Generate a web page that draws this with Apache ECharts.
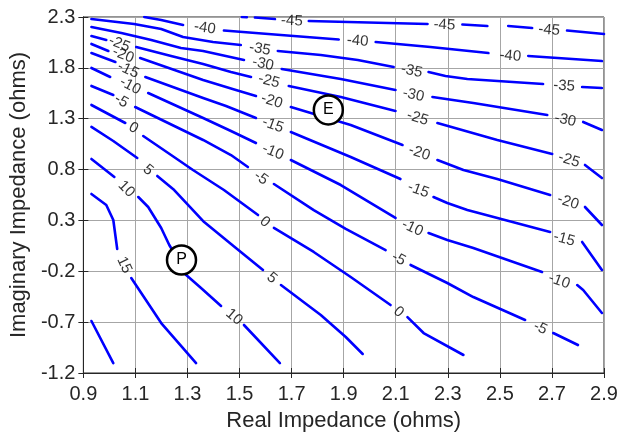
<!DOCTYPE html>
<html><head><meta charset="utf-8">
<script src="https://cdn.jsdelivr.net/npm/echarts@6/dist/echarts.min.js"></script>
<style>html,body{margin:0;padding:0;background:#fff}#c{width:632px;height:438px}</style>
</head><body><div id="c"></div>
<script>
// Tick labels
const xTickLabels = ['0.9','1.1','1.3','1.5','1.7','1.9','2.1','2.3','2.5','2.7','2.9'];
const yTickLabels = ['-1.2','-0.7','-0.2','0.3','0.8','1.3','1.8','2.3'];
const X0 = 0.9, Y0 = -1.2;   // axis origin (real, imaginary)

// Contour lines: each level = list of segments of [real, imag] points (gaps where labels sit)
const c_m45 = [
 [[1.509,2.300],[1.528,2.298]],
 [[1.559,2.295],[1.636,2.280]],
 [[1.766,2.261],[2.222,2.231]],
 [[2.356,2.226],[2.452,2.212]],
 [[2.532,2.212],[2.624,2.192]],
 [[2.758,2.167],[2.900,2.133]]
];
const l_m45 = [[1.701,2.261,-3],[2.287,2.221,-3],[2.689,2.172,-5]];

const c_m40 = [
 [[1.134,2.300],[1.199,2.271],[1.283,2.221]],
 [[1.440,2.167],[1.659,2.123],[1.881,2.079]],
 [[2.023,2.054],[2.233,2.005],[2.456,1.946]],
 [[2.609,1.917],[2.892,1.867]]
];
const l_m40 = [[1.367,2.192,-8],[1.954,2.064,-5],[2.540,1.917,-5]];

const c_m35 = [
 [[0.931,2.280],[1.095,2.231],[1.199,2.182],[1.283,2.103],[1.398,2.054],[1.505,2.025]],
 [[1.647,1.966],[1.812,1.926],[1.954,1.877],[2.092,1.808]],
 [[2.226,1.759],[2.291,1.720],[2.375,1.690],[2.666,1.641]],
 [[2.816,1.612],[2.892,1.602]]
];
const l_m35 = [[1.578,1.985,-10],[2.161,1.769,-12],[2.747,1.622,-4]];

const c_m30 = [
 [[0.931,2.202],[1.046,2.143],[1.161,2.074],[1.275,1.995],[1.360,1.966],[1.517,1.877]],
 [[1.662,1.789],[1.889,1.690],[2.099,1.582]],
 [[2.241,1.513],[2.398,1.454],[2.682,1.336]],
 [[2.820,1.268],[2.892,1.189]]
];
const l_m30 = [[1.590,1.838,-12],[2.168,1.533,-12],[2.751,1.287,-12]];

const c_m25 = [
 [[0.931,2.113],[0.988,2.074]],
 [[1.103,2.005],[1.237,1.917],[1.360,1.838],[1.467,1.759],[1.544,1.710]],
 [[1.689,1.622],[1.889,1.513],[2.099,1.376]],
 [[2.260,1.258],[2.490,1.091],[2.701,0.953]],
 [[2.827,0.845],[2.892,0.717]]
];
const l_m25 = [[1.038,2.035,-22],[1.613,1.671,-15],[2.184,1.307,-17],[2.766,0.894,-17]];

const c_m20 = [
 [[0.931,2.035],[0.996,1.966]],
 [[1.118,1.897],[1.283,1.749],[1.360,1.681],[1.486,1.582],[1.563,1.523]],
 [[1.697,1.415],[1.927,1.238],[2.126,1.042]],
 [[2.260,0.894],[2.360,0.796],[2.490,0.707],[2.693,0.550]],
 [[2.827,0.432],[2.892,0.255]]
];
const l_m20 = [[1.053,1.926,-22],[1.624,1.474,-17],[2.191,0.963,-18],[2.762,0.481,-18]];

const c_m15 = [
 [[0.931,1.946],[1.023,1.858]],
 [[1.138,1.710],[1.360,1.504],[1.448,1.425],[1.563,1.307]],
 [[1.697,1.169],[1.927,0.924],[2.118,0.707]],
 [[2.245,0.530],[2.298,0.471],[2.375,0.402],[2.693,0.186]],
 [[2.816,0.088],[2.892,-0.187]]
];
const l_m15 = [[1.072,1.779,-25],[1.628,1.238,-20],[2.187,0.599,-20],[2.747,0.117,-15]];

const c_m10 = [
 [[0.931,1.799],[1.003,1.710]],
 [[1.149,1.553],[1.360,1.307],[1.467,1.179],[1.563,1.061]],
 [[1.697,0.894],[1.889,0.648],[2.099,0.324]],
 [[2.226,0.176],[2.298,0.107],[2.398,0.029],[2.662,-0.207]],
 [[2.797,-0.335],[2.820,-0.384],[2.892,-0.610]]
];
const l_m10 = [[1.080,1.622,-28],[1.628,0.973,-22],[2.164,0.226,-25],[2.728,-0.296,-20]];

const c_m5 = [
 [[0.931,1.622],[1.015,1.533]],
 [[1.099,1.415],[1.360,1.091],[1.467,0.943],[1.532,0.825]],
 [[1.632,0.658],[1.785,0.402],[1.908,0.216],[2.061,0.009]],
 [[2.157,-0.138],[2.298,-0.315],[2.398,-0.453],[2.597,-0.679]],
 [[2.705,-0.807],[2.800,-0.925]]
];
const l_m5 = [[1.046,1.474,-30],[1.582,0.717,-35],[2.111,-0.079,-28],[2.655,-0.758,-25]];

const c_0 = [
 [[0.931,1.435],[1.061,1.258]],
 [[1.130,1.130],[1.237,0.943],[1.321,0.796],[1.440,0.599],[1.571,0.353]],
 [[1.632,0.226],[1.785,-0.010],[1.927,-0.256],[2.080,-0.532]],
 [[2.145,-0.650],[2.207,-0.807],[2.360,-1.023]]
];
const l_0 = [[1.092,1.209,-30],[1.597,0.284,-40],[2.111,-0.600,-40]];

const c_5 = [
 [[0.931,1.219],[1.015,1.081],[1.107,0.914]],
 [[1.184,0.737],[1.249,0.599],[1.364,0.284],[1.486,0.029],[1.590,-0.187]],
 [[1.659,-0.335],[1.812,-0.630],[1.908,-0.846],[1.973,-1.013]]
];
const l_5 = [[1.149,0.796,-40],[1.624,-0.266,-40]];

const c_10 = [
 [[0.931,0.904],[1.019,0.727]],
 [[1.111,0.530],[1.149,0.432],[1.199,0.226],[1.230,0.058],[1.260,-0.069],[1.295,-0.237],[1.352,-0.364],[1.429,-0.541]],
 [[1.517,-0.728],[1.655,-1.102]]
];
const l_10 = [[1.065,0.609,-45],[1.479,-0.650,-40]];

const c_15 = [
 [[0.931,0.560],[0.988,0.452],[1.015,0.304],[1.030,0.019]],
 [[1.084,-0.266],[1.199,-0.709],[1.333,-1.102]]
];
const l_15 = [[1.057,-0.138,-65]];

const c_20 = [[[0.931,-0.689],[1.015,-1.102]]];
const l_20 = [];

// Marked operating points
const markerNames = ['E','P'];
const markerPoints = [[1.841,1.386],[1.277,-0.089]];

const levelValues = [-45,-40,-35,-30,-25,-20,-15,-10,-5,0,5,10,15,20];
const levelSegs = [c_m45,c_m40,c_m35,c_m30,c_m25,c_m20,c_m15,c_m10,c_m5,c_0,c_5,c_10,c_15,c_20];
const levelLabels = [l_m45,l_m40,l_m35,l_m30,l_m25,l_m20,l_m15,l_m10,l_m5,l_0,l_5,l_10,l_15,l_20];

const FONT = '"Liberation Sans", Arial, Helvetica, sans-serif';
const tx = p => [p[0]-X0, p[1]-Y0];

const series = [];
const labelData = [];
levelValues.forEach((v, i) => {
  levelSegs[i].forEach(seg => {
    series.push({
      type: 'line', data: seg.map(tx), showSymbol: false, symbol: 'none',
      silent: true, animation: false, z: 3,
      lineStyle: { color: '#0000ff', width: 2.6, cap: 'round', join: 'round' }
    });
  });
  levelLabels[i].forEach(l => {
    labelData.push({ value: tx(l), name: String(v), label: { rotate: l[2] } });
  });
});
series.push({
  type: 'scatter', data: labelData, symbolSize: 0, silent: true, animation: false, z: 4,
  label: { show: true, position: 'inside', formatter: p => p.name, color: '#000000',
           textBorderWidth: 0, textShadowBlur: 0, fontSize: 15, fontFamily: FONT }
});
series.push({
  type: 'scatter', animation: false, z: 5, silent: true,
  data: markerPoints.map((p, i) => ({ value: tx(p), name: markerNames[i] })),
  symbol: 'circle', symbolSize: 29,
  itemStyle: { color: '#ffffff', borderColor: '#000000', borderWidth: 2.5, opacity: 1 },
  label: { show: true, position: 'inside', formatter: p => p.name, color: '#000000',
           textBorderWidth: 0, fontSize: 16, fontFamily: FONT }
});

const axisCommon = {
  type: 'value',
  axisLine: { show: true, lineStyle: { color: '#262626', width: 1 } },
  axisTick: { show: true, inside: true, length: 5, lineStyle: { color: '#262626' } }
};

const chart = echarts.init(document.getElementById('c'), null, { renderer: 'canvas' });
chart.setOption({
  backgroundColor: '#fff',
  animation: false,
  grid: { left: 82, right: 28, top: 17, bottom: 65, show: true, borderColor: '#262626', borderWidth: 1, backgroundColor: '#fff' },
  xAxis: [
    Object.assign({}, axisCommon, {
      position: 'bottom', min: 0, max: 2.0, interval: 0.2,
      name: 'Real Impedance (ohms)', nameLocation: 'middle', nameGap: 37,
      nameTextStyle: { fontSize: 22, color: '#262626', fontFamily: FONT },
      axisLabel: { fontSize: 20, color: '#262626', fontFamily: FONT, margin: 11,
                   formatter: (v) => xTickLabels[Math.round(v / 0.2)] },
      splitLine: { show: true, lineStyle: { color: '#a6a6a6', width: 1 } }
    }),
    Object.assign({}, axisCommon, {
      position: 'top', min: 0, max: 2.0, interval: 0.2,
      axisLabel: { show: false }, splitLine: { show: false }
    })
  ],
  yAxis: [
    Object.assign({}, axisCommon, {
      position: 'left', min: 0, max: 3.5, interval: 0.5,
      name: 'Imaginary Impedance (ohms)', nameLocation: 'middle', nameGap: 43, nameRotate: 90,
      nameTextStyle: { fontSize: 22, color: '#262626', fontFamily: FONT },
      axisLabel: { fontSize: 20, color: '#262626', fontFamily: FONT, margin: 8,
                   formatter: (v) => yTickLabels[Math.round(v / 0.5)] },
      splitLine: { show: true, lineStyle: { color: '#a6a6a6', width: 1 } }
    }),
    Object.assign({}, axisCommon, {
      position: 'right', min: 0, max: 3.5, interval: 0.5,
      axisLabel: { show: false }, splitLine: { show: false }
    })
  ],
  series: series
});
</script>
</body></html>
